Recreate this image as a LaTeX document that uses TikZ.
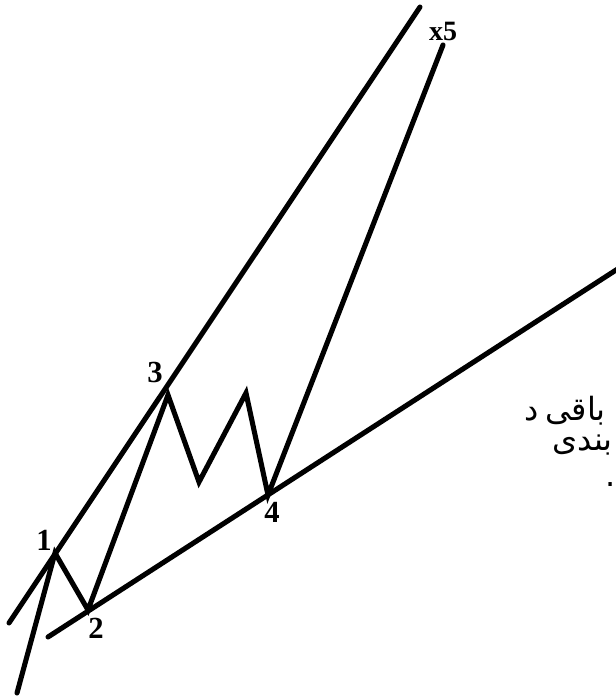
\documentclass[tikz,border=0pt]{standalone}
\usepackage{fontspec}
\setmainfont{Liberation Serif}
\newfontfamily\arabicfont[Script=Arabic]{DejaVu Sans}
\TeXXeTstate=1
\begin{document}
\begin{tikzpicture}[x=0.75pt,y=-0.75pt,
  wave/.style={line width=3.8pt,line cap=round,line join=miter},
  lbl/.style={font=\fontsize{23}{25}\selectfont\bfseries,inner sep=0pt},
  ptxt/.style={font=\arabicfont\fontsize{24}{26}\selectfont,inner sep=0pt,anchor=base east}]
\useasboundingbox (0,0) rectangle (616,697);
\clip (0,0) rectangle (616,697);
% points
\coordinate (A0) at (9,623);
\coordinate (A1) at (420,7);
\coordinate (B0) at (48,637);
\coordinate (B1) at (630,261);
\coordinate (L0) at (17,693);
\coordinate (p1) at (55,553);
\coordinate (p2) at (88,610);
\coordinate (p3) at (168,395);
\coordinate (va) at (199,482);
\coordinate (pb) at (246,393);
\coordinate (p4) at (268,495);
\coordinate (p5) at (443,45);
% trend lines
\draw[wave] (A0) -- (A1);
\draw[wave] (B0) -- (B1);
% wave
\draw[wave] (L0) -- (p1) -- (p2) -- (p3) -- (va) -- (pb) -- (p4) -- (p5);
% labels
\node[lbl] (t1) at (44,540) {1};
\node[lbl] (t2) at (96,628) {2};
\node[lbl] (t3) at (155,372) {3};
\node[lbl] (t4) at (272,512) {4};
\node[lbl,font=\fontsize{21}{23}\selectfont\bfseries] (t5) at (443,31) {x5};
% Persian text (right part lies beyond the edge)
\node[ptxt] (q1) at (606,420) {\beginR باقی\hspace{5pt}د\endR};
\node[ptxt] (q2) at (613,450) {\beginR بندی\endR};
\node[ptxt,anchor=base west] (q3) at (605,486) {.};
\end{tikzpicture}
\end{document}
